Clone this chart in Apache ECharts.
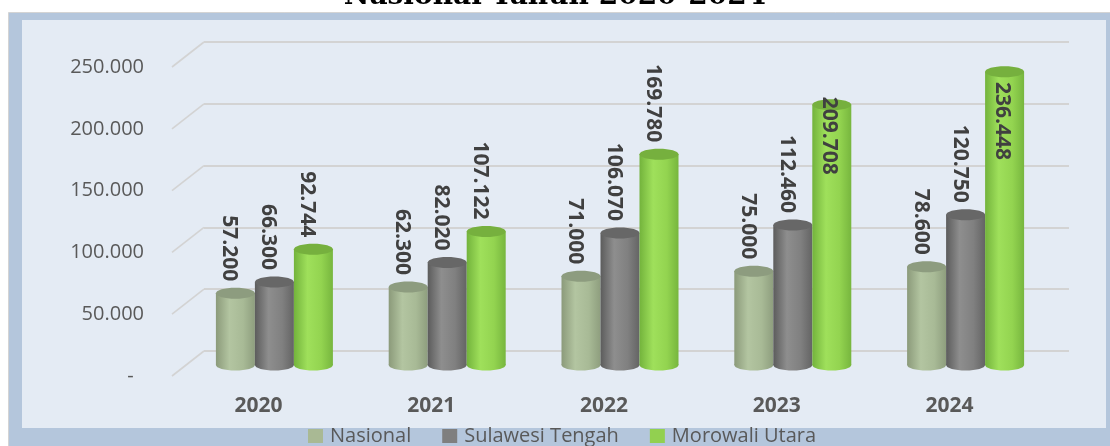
<!DOCTYPE html>
<html>
<head>
<meta charset="utf-8">
<script src="https://cdn.jsdelivr.net/npm/echarts@6/dist/echarts.min.js"></script>
<style>
html,body{margin:0;padding:0;background:#fff;}
#chart{width:1110px;height:446px;}
</style>
</head>
<body>
<div id="chart"></div>
<script>
// ---- data ----
const categories = ['2020', '2021', '2022', '2023', '2024'];
const seriesNames = ['Nasional', 'Sulawesi Tengah', 'Morowali Utara'];
const nasional = [57200, 62300, 71000, 75000, 78600];
const sulawesiTengah = [66300, 82020, 106070, 112460, 120750];
const morowaliUtara = [92744, 107122, 169780, 209708, 236448];
const yTicks = [0, 50000, 100000, 150000, 200000, 250000];
const titleText = 'Nasional Tahun 2020-2024';

// ---- styles ----
const legendColors = ['#a9b994', '#7f7f7f', '#92d050'];
const bodyStops = [
  ['#8b9a7a', '#b3c5a1', '#a8ba96', '#8e9e7e'],
  ['#5c5c5c', '#8e8e8e', '#808080', '#646464'],
  ['#73b33c', '#9fe05b', '#93d450', '#77b63e']
];
const topColors = ['#8d9c7f', '#676767', '#76b03e'];
const FONT = "'Open Sans', 'Noto Sans', sans-serif";

function fmt(v) {
  if (v === 0) return '-  ';
  return String(v).replace(/\B(?=(\d{3})+(?!\d))/g, '.');
}

const chart = echarts.init(document.getElementById('chart'), null, {renderer: 'canvas'});

function makeBarSeries(idx, values) {
  const W = 39;
  const grad = new echarts.graphic.LinearGradient(0, 0, 1, 0, [
    {offset: 0, color: bodyStops[idx][0]},
    {offset: 0.35, color: bodyStops[idx][1]},
    {offset: 0.7, color: bodyStops[idx][2]},
    {offset: 1, color: bodyStops[idx][3]}
  ]);
  return {
    name: seriesNames[idx],
    type: 'custom',
    xAxisIndex: 1,
    yAxisIndex: 1,
    itemStyle: {color: legendColors[idx]},
    data: values.map((v, i) => [i, v]),
    renderItem: function (params, api) {
      const cat = api.value(0);
      const v = api.value(1);
      const base = api.coord([cat, 0]);
      const top = api.coord([cat, v]);
      const cx = base[0] + (idx - 1) * W;
      const rx = W / 2, ry = 5.5;
      const by = base[1] + 1;
      const ty = top[1];
      const text = fmt(v);
      let label;
      const natural = ty - 12 - 80;
      if (natural >= 40) {
        label = {
          type: 'text', x: cx - 6, y: ty - 12, rotation: -Math.PI / 2,
          style: {text: text, align: 'right', verticalAlign: 'middle',
            font: 'bold 21px ' + FONT, fill: '#404040'}
        };
      } else {
        label = {
          type: 'text', x: cx - 3, y: Math.max(ty - 8, 82), rotation: -Math.PI / 2,
          style: {text: text, align: 'left', verticalAlign: 'middle',
            font: 'bold 21px ' + FONT, fill: '#404040'}
        };
      }
      return {
        type: 'group',
        children: [
          {type: 'ellipse', shape: {cx: cx, cy: by, rx: rx, ry: ry}, style: {fill: grad}},
          {type: 'rect', shape: {x: cx - rx, y: ty, width: W, height: by - ty}, style: {fill: grad}},
          {type: 'ellipse', shape: {cx: cx, cy: ty, rx: rx, ry: ry}, style: {fill: topColors[idx]}},
          label
        ]
      };
    }
  };
}

const option = {
  backgroundColor: '#ffffff',
  animation: false,
  title: {
    text: titleText,
    left: 'center',
    top: -22,
    textStyle: {fontFamily: "'DejaVu Serif', serif", fontWeight: 'bold', fontSize: 28, color: '#000'}
  },
  graphic: [
    {type: 'rect', z: -100, shape: {x: 8.5, y: 12.5, width: 1110, height: 440},
      style: {fill: '#b4c6dc', stroke: '#d4d4d4', lineWidth: 1}},
    {type: 'rect', z: -99, shape: {x: 22, y: 20, width: 1084, height: 408},
      style: {fill: '#e4ebf4'}}
  ],
  legend: {
    data: seriesNames,
    left: 308,
    top: 426,
    padding: 0,
    itemGap: 31,
    icon: 'rect',
    itemWidth: 15,
    itemHeight: 14,
    textStyle: {fontFamily: FONT, fontSize: 20, color: '#595959', padding: [0, 0, 0, 2]}
  },
  grid: [
    {left: 172, top: 67, width: 864, height: 309},
    {left: 188, top: 55, width: 864, height: 309},
    {left: 204, top: 42, width: 865, height: 309}
  ],
  xAxis: [
    {gridIndex: 0, type: 'category', data: categories,
      axisLine: {show: false}, axisTick: {show: false},
      axisLabel: {margin: 20, fontFamily: FONT, fontSize: 21, fontWeight: 'bold', color: '#595959'}},
    {gridIndex: 1, type: 'category', data: categories, show: false},
    {gridIndex: 2, type: 'value', min: 0, max: 1, show: false}
  ],
  yAxis: [
    {gridIndex: 0, type: 'value', min: 0, max: 250000, interval: 50000,
      axisLine: {show: false}, axisTick: {show: false}, splitLine: {show: false},
      axisLabel: {margin: 28, fontFamily: FONT, fontSize: 20, color: '#595959', formatter: fmt}},
    {gridIndex: 1, type: 'value', min: 0, max: 250000, interval: 50000, show: false},
    {gridIndex: 2, type: 'value', min: 0, max: 250000, interval: 50000,
      axisLine: {show: false}, axisTick: {show: false}, axisLabel: {show: false},
      splitLine: {show: true, lineStyle: {color: '#d3d3d3', width: 2}}}
  ],
  series: [
    {
      type: 'custom',
      xAxisIndex: 2,
      yAxisIndex: 2,
      silent: true,
      legendHoverLink: false,
      data: yTicks.map(v => [0, v]),
      renderItem: function (params, api) {
        const p = api.coord([0, api.value(1)]);
        return {
          type: 'line',
          shape: {x1: p[0], y1: p[1], x2: p[0] - 32, y2: p[1] + 25},
          style: {stroke: '#d3d3d3', lineWidth: 1.6}
        };
      }
    },
    makeBarSeries(0, nasional),
    makeBarSeries(1, sulawesiTengah),
    makeBarSeries(2, morowaliUtara)
  ]
};
chart.setOption(option);
</script>
</body>
</html>
